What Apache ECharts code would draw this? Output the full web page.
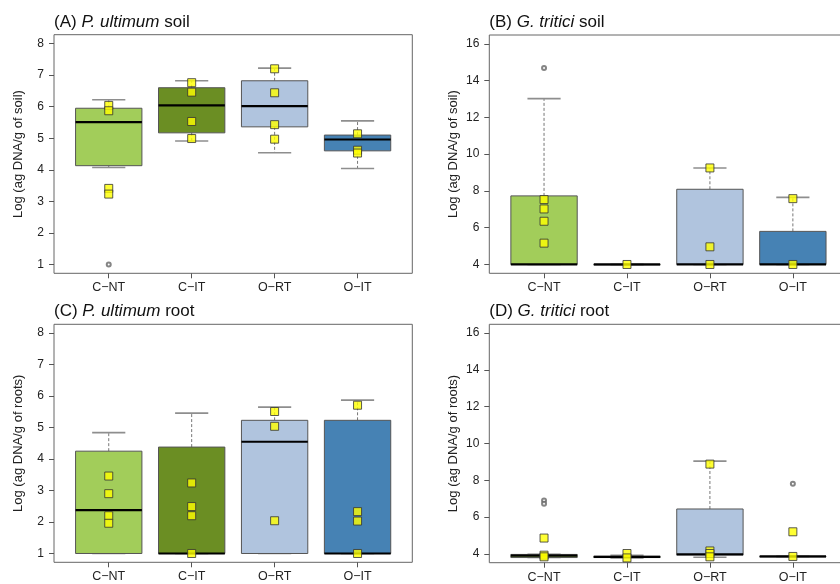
<!DOCTYPE html>
<html>
<head>
<meta charset="utf-8">
<script src="https://cdn.jsdelivr.net/npm/echarts@6/dist/echarts.min.js"></script>
<style>html,body{margin:0;padding:0;background:#fff}#c{width:840px;height:584px}</style>
</head>
<body>
<div id="c"></div>
<script>
// ---- data ----
const categories = ['C\u2212NT', 'C\u2212IT', 'O\u2212RT', 'O\u2212IT'];
const boxColors = ['#a2cd5a', '#6b8e23', '#b0c4de', '#4682b4'];

// [min, Q1, median, Q3, max] per category
const boxA = [[4.07, 4.13, 5.51, 5.95, 6.22], [4.91, 5.17, 6.04, 6.60, 6.82], [4.54, 5.36, 6.02, 6.82, 7.22], [4.04, 4.60, 4.96, 5.10, 5.55]];
const outA = [[1, 1.0]];
const ptsA = [[1, 6.04], [1, 5.87], [1, 3.41], [1, 3.23], [2, 6.76], [2, 6.46], [2, 5.53], [2, 4.99], [3, 7.20], [3, 6.44], [3, 5.43], [3, 4.97], [4, 5.14], [4, 4.62], [4, 4.53]];

const boxB = [[4.0, 4.0, 4.0, 7.73, 13.02], [4.0, 4.0, 4.0, 4.0, 4.0], [4.0, 4.0, 4.0, 8.09, 9.25], [4.0, 4.0, 4.0, 5.80, 7.65]];
const outB = [[1, 14.69]];
const ptsB = [[1, 7.53], [1, 7.02], [1, 6.35], [1, 5.16], [2, 4.0], [3, 9.25], [3, 4.96], [3, 4.0], [4, 7.58], [4, 4.0]];

const boxC = [[1.0, 1.0, 2.38, 4.25, 4.84], [1.0, 1.0, 1.0, 4.38, 5.46], [1.0, 1.0, 4.55, 5.23, 5.65], [1.0, 1.0, 1.0, 5.23, 5.87]];
const outC = [];
const ptsC = [[1, 3.46], [1, 2.90], [1, 2.20], [1, 1.96], [2, 3.24], [2, 2.49], [2, 2.20], [2, 1.0], [3, 5.51], [3, 5.04], [3, 2.04], [4, 5.71], [4, 2.33], [4, 2.03], [4, 1.0]];

const boxD = [[3.80, 3.80, 3.90, 3.97, 3.97], [3.78, 3.80, 3.84, 3.87, 3.92], [3.82, 3.93, 3.98, 6.44, 9.04], [3.86, 3.86, 3.86, 3.86, 3.86]];
const outD = [[1, 6.90], [1, 6.72], [4, 7.81]];
const ptsD = [[1, 4.86], [1, 3.93], [1, 3.84], [2, 4.02], [2, 3.78], [3, 8.88], [3, 4.16], [3, 4.02], [3, 3.84], [4, 5.20], [4, 3.86]];

const ticksLow = [1, 2, 3, 4, 5, 6, 7, 8];
const ticksHigh = [4, 6, 8, 10, 12, 14, 16];

// ---- chart ----
const FONT = 'Liberation Sans, Arial, Helvetica, sans-serif';
const panels = [
  { box: boxA, out: outA, pts: ptsA, ticks: ticksLow, min: 0.72, max: 8.28, name: 'Log (ag DNA/g of soil)',
    grid: { left: 54, top: 34.7, width: 358.3, height: 238.6 }, title: ['(A) ', 'P. ultimum', ' soil'], tpos: [54, 12] },
  { box: boxB, out: outB, pts: ptsB, ticks: ticksHigh, min: 3.52, max: 16.48, name: 'Log (ag DNA/g of soil)',
    grid: { left: 489.3, top: 35, width: 358.3, height: 238.3 }, title: ['(B) ', 'G. tritici', ' soil'], tpos: [489.3, 12.5] },
  { box: boxC, out: outC, pts: ptsC, ticks: ticksLow, min: 0.72, max: 8.28, name: 'Log (ag DNA/g of roots)',
    grid: { left: 54, top: 324.3, width: 358.3, height: 238 }, title: ['(C) ', 'P. ultimum', ' root'], tpos: [54, 301] },
  { box: boxD, out: outD, pts: ptsD, ticks: ticksHigh, min: 3.52, max: 16.48, name: 'Log (ag DNA/g of roots)',
    grid: { left: 489.3, top: 324.3, width: 358.3, height: 238.4 }, title: ['(D) ', 'G. tritici', ' root'], tpos: [489.3, 301] }
];

function renderBox(params, api) {
  const x = api.value(0), mn = api.value(1), q1 = api.value(2), md = api.value(3), q3 = api.value(4), mx = api.value(5);
  const hw = 0.4, cw = 0.2;
  const c = (a, b) => api.coord([a, b]);
  const xl = c(x - hw, md)[0], xr = c(x + hw, md)[0];
  const xc = c(x, md)[0];
  const cl = c(x - cw, md)[0], cr = c(x + cw, md)[0];
  const yMin = c(x, mn)[1], yQ1 = c(x, q1)[1], yMd = c(x, md)[1], yQ3 = c(x, q3)[1], yMax = c(x, mx)[1];
  const whisk = { stroke: '#777', lineWidth: 1, lineDash: [3, 2] };
  const cap = { stroke: '#8e8e8e', lineWidth: 1.6 };
  const children = [
    { type: 'line', shape: { x1: xc, y1: yQ3, x2: xc, y2: yMax }, style: whisk },
    { type: 'line', shape: { x1: xc, y1: yQ1, x2: xc, y2: yMin }, style: whisk },
    { type: 'line', shape: { x1: cl, y1: yMax, x2: cr, y2: yMax }, style: cap },
    { type: 'line', shape: { x1: cl, y1: yMin, x2: cr, y2: yMin }, style: cap },
    { type: 'rect', shape: { x: xl, y: yQ3, width: xr - xl, height: Math.max(yQ1 - yQ3, 0.5) },
      style: { fill: boxColors[params.dataIndex], stroke: '#555', lineWidth: 1 } },
    { type: 'line', shape: { x1: xl, y1: yMd, x2: xr, y2: yMd }, style: { stroke: '#000', lineWidth: 2.2 } }
  ];
  return { type: 'group', children };
}

const option = {
  backgroundColor: '#fff',
  animation: false,
  title: [], grid: [], xAxis: [], yAxis: [], series: []
};

panels.forEach((p, i) => {
  option.title.push({
    text: '{n|' + p.title[0] + '}{i|' + p.title[1] + '}{n|' + p.title[2] + '}',
    left: p.tpos[0], top: p.tpos[1], padding: 0,
    textStyle: { fontWeight: 'normal', rich: {
      n: { fontSize: 17, fontFamily: FONT, color: '#111', fontWeight: 'normal', lineHeight: 20 },
      i: { fontSize: 17, fontFamily: FONT, color: '#111', fontWeight: 'normal', fontStyle: 'italic', lineHeight: 20 }
    } }
  });
  option.grid.push(Object.assign({ show: true, borderColor: '#666', borderWidth: 1, backgroundColor: 'transparent',
    outerBoundsMode: 'none', containLabel: false }, p.grid));
  option.xAxis.push({
    type: 'value', gridIndex: i, min: 0.34, max: 4.66,
    axisLine: { show: false }, splitLine: { show: false },
    axisTick: { show: true, customValues: [1, 2, 3, 4], length: 5, lineStyle: { color: '#555' } },
    axisLabel: { customValues: [1, 2, 3, 4], formatter: v => categories[Math.round(v) - 1], margin: 8,
      fontSize: 12.5, fontFamily: FONT, color: '#222' }
  });
  option.yAxis.push({
    type: 'value', gridIndex: i, min: p.min, max: p.max,
    axisLine: { show: false }, splitLine: { show: false },
    axisTick: { show: true, customValues: p.ticks, length: 5, lineStyle: { color: '#555' } },
    axisLabel: { customValues: p.ticks, margin: 10, fontSize: 12, fontFamily: FONT, color: '#222' },
    name: p.name, nameLocation: 'middle', nameGap: 29,
    nameTextStyle: { fontSize: 13, fontFamily: FONT, color: '#222' }
  });
  option.series.push({
    type: 'custom', xAxisIndex: i, yAxisIndex: i, z: 2,
    renderItem: renderBox,
    encode: { x: 0, y: [1, 2, 3, 4, 5] },
    data: p.box.map((b, k) => [k + 1].concat(b))
  });
  option.series.push({
    type: 'scatter', xAxisIndex: i, yAxisIndex: i, z: 3,
    symbol: 'emptyCircle', symbolSize: 4,
    itemStyle: { color: '#666', borderColor: '#666', borderWidth: 0.8 },
    data: p.out
  });
  option.series.push({
    type: 'scatter', xAxisIndex: i, yAxisIndex: i, z: 4,
    symbol: 'rect', symbolSize: 8,
    itemStyle: { color: '#ffff00', borderColor: '#333', borderWidth: 1 },
    data: p.pts
  });
});

const chart = echarts.init(document.getElementById('c'), null, { renderer: 'canvas' });
chart.setOption(option);
</script>
</body>
</html>
